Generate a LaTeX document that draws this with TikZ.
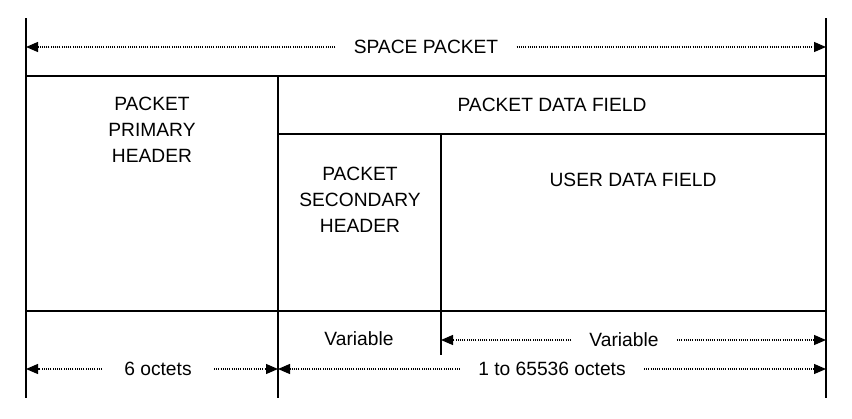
\documentclass[tikz,border=0pt]{standalone}
\usepackage{fontspec}
\setmainfont{Liberation Sans}
\usetikzlibrary{arrows.meta}
\tikzset{
  boxline/.style={line width=1pt},
  dimline/.style={dash pattern=on 0.5pt off 0.6pt, line width=0.6pt, -{Triangle[length=6pt,width=5pt]}},
  lbl/.style={inner xsep=9pt, inner ysep=1pt, font=\fontsize{9.6}{13}\selectfont, align=center}
}
\begin{document}
\begin{tikzpicture}[x=0.5pt,y=-0.5pt]
\useasboundingbox (0,0) rectangle (852,418);
\coordinate (T1) at (26,18);
\coordinate (T2) at (826,18);
\coordinate (B1) at (26,398);
\coordinate (B2) at (826,398);
\coordinate (M1) at (278,76);
\coordinate (M2) at (278,398);
\coordinate (S1) at (441,134);
\coordinate (S2) at (441,355);

% frame of the packet
\draw[boxline] (T1) -- (B1);
\draw[boxline] (T2) -- (B2);
\draw[boxline] (M1) -- (M2);
\draw[boxline] (S1) -- (S2);
\draw[boxline] (26,76) -- (826,76);
\draw[boxline] (278,134) -- (826,134);
\draw[boxline] (26,311) -- (826,311);

% field names
\node[lbl] (pph) at (152,130) {PACKET\\PRIMARY\\HEADER};
\node[lbl] (pdf) at (552,105) {PACKET DATA FIELD};
\node[lbl] (psh) at (360,200) {PACKET\\SECONDARY\\HEADER};
\node[lbl] (udf) at (633,180) {USER DATA FIELD};

% lengths
\coordinate (spL) at (26,47);
\coordinate (spR) at (826,47);
\node[lbl] (sp) at (426,47) {SPACE PACKET};
\draw[dimline] (sp) -- (spL);
\draw[dimline] (sp) -- (spR);

\node[lbl] (varA) at (359,339) {Variable};
\coordinate (vaL) at (441,340);
\coordinate (vaR) at (826,340);
\node[lbl] (varB) at (624,340) {Variable};
\draw[dimline] (varB) -- (vaL);
\draw[dimline] (varB) -- (vaR);

\coordinate (ocL) at (26,369);
\coordinate (ocM) at (278,369);
\coordinate (ocR) at (826,369);
\node[lbl, inner xsep=11pt] (six) at (158,369) {6 octets};
\node[lbl] (max) at (552,369) {1 to 65536 octets};
\draw[dimline] (six) -- (ocL);
\draw[dimline] (six) -- (ocM);
\draw[dimline] (max) -- (ocM);
\draw[dimline] (max) -- (ocR);
\end{tikzpicture}
\end{document}
